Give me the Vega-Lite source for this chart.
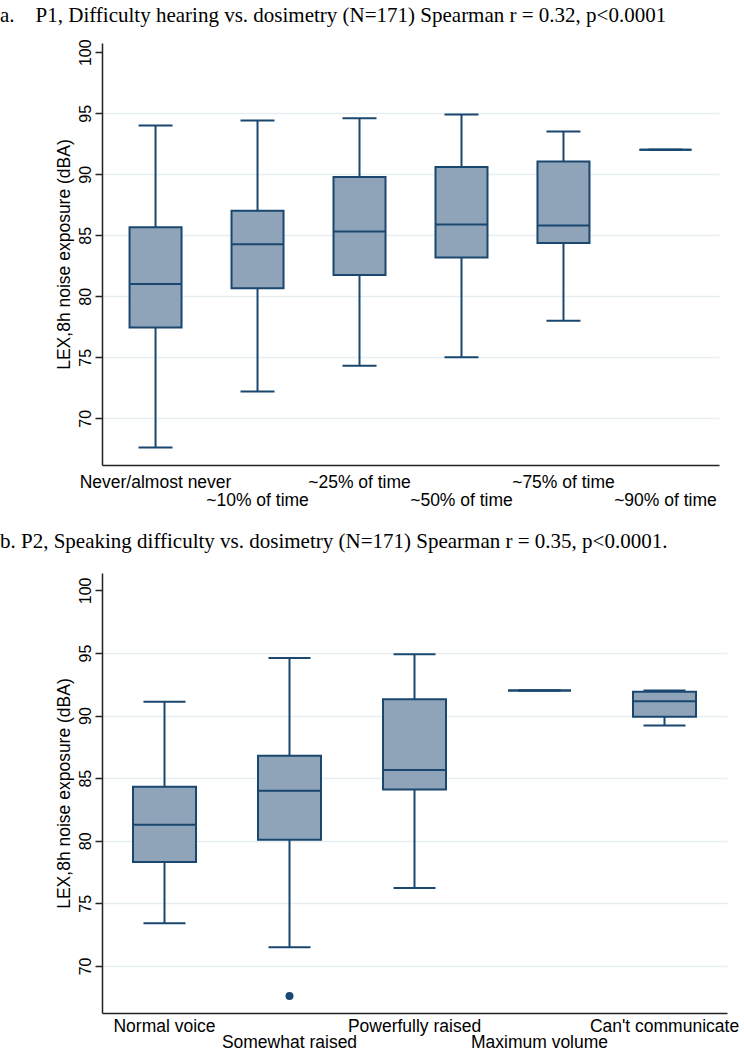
{
  "$schema": "https://vega.github.io/schema/vega-lite/v6.json",
  "padding": {"left": 0, "top": 4, "right": 0, "bottom": 0},
  "background": "white",
  "spacing": 22,
  "config": {
    "view": {"stroke": null},
    "title": {"font": "Liberation Serif", "fontSize": 21, "fontWeight": "normal", "anchor": "start", "frame": "group", "color": "black", "dx": -102, "baseline": "alphabetic"},
    "axis": {"labelFont": "Liberation Sans", "titleFont": "Liberation Sans", "labelColor": "black", "titleColor": "black", "domainColor": "#222222", "domainWidth": 1.5, "tickColor": "#222222", "tickWidth": 1.5, "titleFontWeight": "normal"}
  },
  "vconcat": [
    {
      "title": {"text": "a.\u00a0\u00a0\u00a0 P1, Difficulty hearing vs. dosimetry (N=171) Spearman r = 0.32, p<0.0001", "offset": 13},
      "width": 617,
      "height": 422,
      "data": {"values": [
        {"cat": "Never/almost never", "lo": 67.6, "q1": 77.45, "med": 81.0, "q3": 85.66, "hi": 94.0},
        {"cat": "~10% of time", "lo": 72.2, "q1": 80.66, "med": 84.26, "q3": 87.0, "hi": 94.4},
        {"cat": "~25% of time", "lo": 74.3, "q1": 81.75, "med": 85.3, "q3": 89.78, "hi": 94.6},
        {"cat": "~50% of time", "lo": 75.0, "q1": 83.18, "med": 85.88, "q3": 90.6, "hi": 94.9},
        {"cat": "~75% of time", "lo": 78.0, "q1": 84.37, "med": 85.8, "q3": 91.04, "hi": 93.5},
        {"cat": "~90% of time", "lo": 92.0, "q1": 92.0, "med": 92.0, "q3": 92.0, "hi": 92.0}
      ]},
      "encoding": {
        "x": {"field": "cat", "type": "nominal", "sort": null,
          "scale": {"paddingInner": 0, "paddingOuter": 0.025},
          "axis": {"title": null, "labelAngle": 0, "ticks": false, "labelFontSize": 17.5, "labelOverlap": false, "labelBound": false,
            "labelPadding": {"condition": {"test": "indexof(['~10% of time','~50% of time','~90% of time'], datum.value) >= 0", "value": 26}, "value": 8}}}
      },
      "layer": [
        {"mark": {"type": "rule", "color": "#1a476f", "strokeWidth": 2},
          "encoding": {
            "y": {"field": "lo", "type": "quantitative",
              "scale": {"domain": [66.17, 100.76], "nice": false, "zero": false},
              "axis": {"values": [70, 75, 80, 85, 90, 95, 100], "labelAngle": -90, "labelFontSize": 16, "tickSize": 7, "labelPadding": 2,
                "title": "LEX,8h noise exposure (dBA)", "titleFontSize": 17.5, "titlePadding": 4, "grid": true, "gridWidth": 1.5,
                "gridColor": {"condition": {"test": "datum.value == 100", "value": "transparent"}, "value": "#e6eef2"}}},
            "y2": {"field": "hi"}}},
        {"mark": {"type": "tick", "color": "#1a476f", "size": 34, "thickness": 2, "opacity": 1},
          "encoding": {"y": {"field": "lo", "type": "quantitative"}}},
        {"mark": {"type": "tick", "color": "#1a476f", "size": 34, "thickness": 2, "opacity": 1},
          "encoding": {"y": {"field": "hi", "type": "quantitative"}}},
        {"mark": {"type": "bar", "size": 52, "fill": "#8fa4b9", "stroke": "#1a476f", "strokeWidth": 2, "opacity": 1},
          "encoding": {"y": {"field": "q1", "type": "quantitative"}, "y2": {"field": "q3"}}},
        {"mark": {"type": "tick", "color": "#1a476f", "size": 52, "thickness": 2, "opacity": 1},
          "encoding": {"y": {"field": "med", "type": "quantitative"}}}
      ]
    },
    {
      "title": {"text": "b. P2, Speaking difficulty vs. dosimetry (N=171) Spearman r = 0.35, p<0.0001.", "offset": 21},
      "width": 625,
      "height": 440,
      "data": {"values": [
        {"cat": "Normal voice", "lo": 73.4, "q1": 78.3, "med": 81.28, "q3": 84.31, "hi": 91.1},
        {"cat": "Somewhat raised", "lo": 71.5, "q1": 80.08, "med": 84.0, "q3": 86.79, "hi": 94.6},
        {"cat": "Powerfully raised", "lo": 76.23, "q1": 84.09, "med": 85.66, "q3": 91.3, "hi": 94.9},
        {"cat": "Maximum volume", "lo": 92.0, "q1": 92.0, "med": 92.0, "q3": 92.0, "hi": 92.0},
        {"cat": "Can't communicate", "lo": 89.2, "q1": 89.9, "med": 91.15, "q3": 91.9, "hi": 92.0}
      ]},
      "encoding": {
        "x": {"field": "cat", "type": "nominal", "sort": null,
          "scale": {"paddingInner": 0, "paddingOuter": 0},
          "axis": {"title": null, "labelAngle": 0, "ticks": false, "labelFontSize": 17.5, "labelOverlap": false, "labelBound": false,
            "labelPadding": {"condition": {"test": "indexof(['Somewhat raised','Maximum volume'], datum.value) >= 0", "value": 20}, "value": 4}}}
      },
      "layer": [
        {"mark": {"type": "rule", "color": "#1a476f", "strokeWidth": 2},
          "encoding": {
            "y": {"field": "lo", "type": "quantitative",
              "scale": {"domain": [66.24, 101.39], "nice": false, "zero": false},
              "axis": {"values": [70, 75, 80, 85, 90, 95, 100], "labelAngle": -90, "labelFontSize": 16, "tickSize": 7, "labelPadding": 2,
                "title": "LEX,8h noise exposure (dBA)", "titleFontSize": 17.5, "titlePadding": 4, "grid": true, "gridWidth": 1.5,
                "gridColor": {"condition": {"test": "datum.value == 100", "value": "transparent"}, "value": "#e6eef2"}}},
            "y2": {"field": "hi"}}},
        {"mark": {"type": "tick", "color": "#1a476f", "size": 42, "thickness": 2, "opacity": 1},
          "encoding": {"y": {"field": "lo", "type": "quantitative"}}},
        {"mark": {"type": "tick", "color": "#1a476f", "size": 42, "thickness": 2, "opacity": 1},
          "encoding": {"y": {"field": "hi", "type": "quantitative"}}},
        {"mark": {"type": "bar", "size": 63, "fill": "#8fa4b9", "stroke": "#1a476f", "strokeWidth": 2, "opacity": 1},
          "encoding": {"y": {"field": "q1", "type": "quantitative"}, "y2": {"field": "q3"}}},
        {"mark": {"type": "tick", "color": "#1a476f", "size": 63, "thickness": 2, "opacity": 1},
          "encoding": {"y": {"field": "med", "type": "quantitative"}}},
        {"data": {"values": [{"cat": "Somewhat raised", "val": 67.6}]},
          "mark": {"type": "point", "filled": true, "size": 64, "color": "#1a476f", "opacity": 1},
          "encoding": {"y": {"field": "val", "type": "quantitative"}}}
      ]
    }
  ]
}
